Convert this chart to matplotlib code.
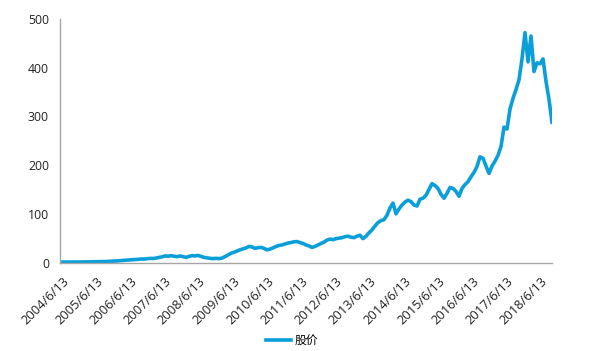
import numpy as np
import matplotlib
matplotlib.use('Agg')
import matplotlib.pyplot as plt

plt.rcParams['font.family'] = ['Open Sans', 'Noto Sans CJK SC', 'DejaVu Sans']

# share price at even steps along the category axis
price = [
    0.8, 0.8, 0.7, 0.8, 0.9, 0.9, 1.0, 1.0, 1.1, 1.2,
    1.3, 1.4, 1.5, 1.6, 1.8, 2.0, 2.3, 2.5, 2.8, 3.2,
    3.8, 4.2, 4.8, 5.2, 5.5, 6.0, 6.5, 7.2, 7.0, 7.8,
    8.5, 8.2, 9.0, 10.5, 11.5, 13.5, 13.0, 14.0, 13.0, 12.0,
    13.5, 12.0, 10.5, 12.5, 14.0, 13.5, 14.5, 12.5, 10.5, 9.5,
    8.5, 8.0, 8.5, 8.0, 9.0, 12.0, 15.5, 19.0, 21.0, 23.5,
    26.0, 28.0, 30.0, 33.0, 32.0, 29.0, 30.5, 31.0, 29.0, 26.0,
    27.5, 30.0, 33.0, 35.0, 36.0, 38.0, 40.0, 41.0, 42.5, 43.0,
    41.0, 39.0, 36.0, 34.0, 31.0, 33.0, 36.0, 39.0, 42.0, 46.0,
    48.0, 47.0, 49.0, 50.0, 51.0, 53.0, 54.0, 52.0, 51.0, 54.0,
    56.0, 49.0, 54.0, 61.0, 67.0, 75.0, 82.0, 86.0, 88.0, 97.0,
    112.0, 122.0, 100.0, 110.0, 118.0, 124.0, 128.0, 125.0, 118.0, 116.0,
    130.0, 132.0, 138.0, 150.0, 162.0, 158.0, 152.0, 140.0, 132.0, 142.0,
    154.0, 152.0, 146.0, 136.0, 152.0, 160.0, 166.0, 176.0, 185.0, 197.0,
    217.0, 214.0, 198.0, 183.0, 198.0, 208.0, 220.0, 238.0, 278.0, 274.0,
    315.0, 337.0, 355.0, 375.0, 418.0, 472.0, 412.0, 465.0, 392.0, 410.0,
    408.0, 418.0, 372.0, 335.0, 288.0,
]

tick_labels = ['2004/6/13', '2005/6/13', '2006/6/13', '2007/6/13', '2008/6/13',
               '2009/6/13', '2010/6/13', '2011/6/13', '2012/6/13', '2013/6/13',
               '2014/6/13', '2015/6/13', '2016/6/13', '2017/6/13', '2018/6/13']

series_name = '股价'

W, H = 593, 351
fig = plt.figure(figsize=(W / 100, H / 100), dpi=100)
ax = fig.add_axes([60 / W, 1 - 262.5 / H, 492 / W, (262.5 - 19) / H])

x = np.arange(len(price))
line_color = '#0a9fd9'
ax.plot(x, price, color=line_color, lw=2.6, label=series_name, solid_joinstyle='round')

ax.set_xlim(0, len(price) - 1)
ax.set_ylim(0, 500)
ax.set_yticks(range(0, 501, 100))

ax.tick_params(axis='y', length=0, colors='#222222', labelsize=8.8, pad=8)
ax.tick_params(axis='x', length=0, colors='#222222', pad=9)

# labels sit every ~34 px, the first one just right of the axis start
px_per_step = 492 / (len(price) - 1)
ax.set_xticks((2 + 34.2 * np.arange(len(tick_labels))) / px_per_step)
ax.set_xticklabels(tick_labels, rotation=45, ha='right', va='top',
                   rotation_mode='anchor', fontsize=9.3)

for side in ['top', 'right']:
    ax.spines[side].set_visible(False)
for side in ['left', 'bottom']:
    ax.spines[side].set_color('#a6a6a6')
    ax.spines[side].set_linewidth(1.0)

fig.legend(loc='center', bbox_to_anchor=(292 / W, 1 - 341 / H), frameon=False,
           fontsize=8.5, handlelength=2.1, handletextpad=0.3)

fig.savefig('out.png', dpi=100)
